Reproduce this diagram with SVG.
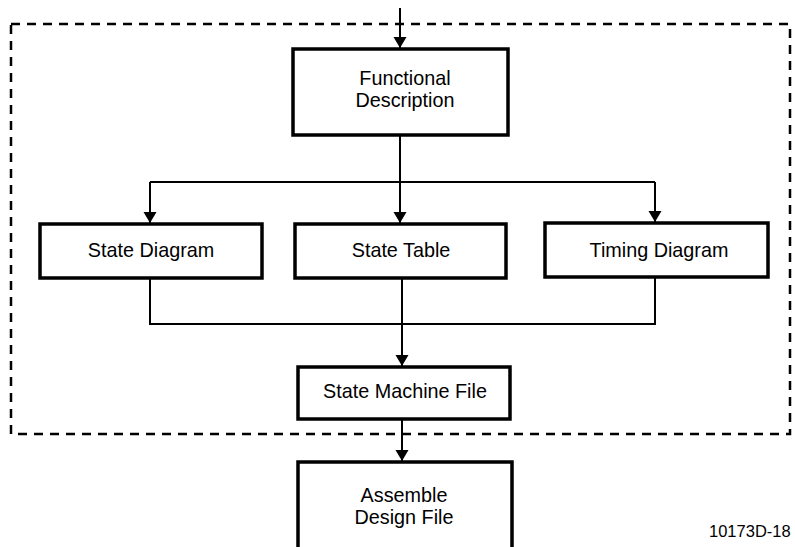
<svg xmlns="http://www.w3.org/2000/svg" width="795" height="547" viewBox="0 0 795 547">
<style>
.box{fill:#fff;stroke:#000;stroke-width:3.5}
.ln{fill:none;stroke:#000;stroke-width:2}
.dash{fill:none;stroke:#000;stroke-width:2.5;stroke-dasharray:9 7}
text{font-family:"Liberation Sans",Arial,sans-serif;font-size:19.8px;fill:#000;text-anchor:middle}
.id{font-size:16.5px;text-anchor:start}
</style>
<defs>
<marker id="ah" viewBox="0 0 11 15" refX="11" refY="7.5" markerWidth="11" markerHeight="15" markerUnits="userSpaceOnUse" orient="auto">
<path d="M0,1 L11,7.5 L0,14 Z" fill="#000"/>
</marker>
</defs>
<rect class="dash" x="11" y="24" width="779" height="410"/>
<g id="connectors">
<line class="ln" x1="400" y1="8" x2="400" y2="48" marker-end="url(#ah)"/>
<line class="ln" x1="400" y1="136" x2="400" y2="223" marker-end="url(#ah)"/>
<polyline class="ln" points="150,182 655,182"/>
<line class="ln" x1="150" y1="182" x2="150" y2="223" marker-end="url(#ah)"/>
<line class="ln" x1="655" y1="182" x2="655" y2="222" marker-end="url(#ah)"/>
<polyline class="ln" points="150,279 150,324 655,324 655,277"/>
<line class="ln" x1="402" y1="279" x2="402" y2="366" marker-end="url(#ah)"/>
<line class="ln" x1="402" y1="420" x2="402" y2="461" marker-end="url(#ah)"/>
</g>
<g id="functional-description">
<rect class="box" x="293" y="49" width="215" height="86"/>
<text x="405" y="85">Functional</text>
<text x="405" y="107">Description</text>
</g>
<g id="state-diagram">
<rect class="box" x="40" y="224" width="222" height="54"/>
<text x="151" y="257">State Diagram</text>
</g>
<g id="state-table">
<rect class="box" x="295" y="224" width="211" height="54"/>
<text x="401" y="257">State Table</text>
</g>
<g id="timing-diagram">
<rect class="box" x="545" y="223" width="223" height="54"/>
<text x="659" y="257">Timing Diagram</text>
</g>
<g id="state-machine-file">
<rect class="box" x="298" y="367" width="212" height="52"/>
<text x="405" y="398">State Machine File</text>
</g>
<g id="assemble-design-file">
<rect class="box" x="298" y="462" width="214" height="100"/>
<text x="404" y="502">Assemble</text>
<text x="404" y="524">Design File</text>
</g>
<text class="id" x="709" y="537">10173D-18</text>
</svg>
